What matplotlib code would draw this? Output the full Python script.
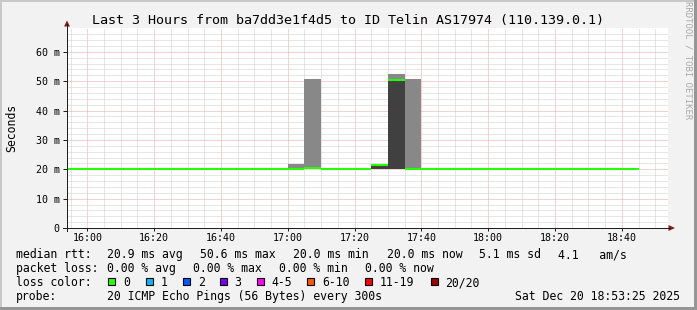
import matplotlib
matplotlib.use('Agg')
import matplotlib.pyplot as plt
import numpy as np
from matplotlib.lines import Line2D
from matplotlib.patches import Polygon, Rectangle

W, H = 697, 310
MONO = 'DejaVu Sans Mono'

# 5 minute bins (minutes after midnight), 15:50 .. 18:40
bin_start = [950 + 5 * i for i in range(35)]
median_ms = [20.0, 20.0, 20.0, 20.0, 20.0, 20.0, 20.0, 20.0, 20.0, 20.0,
             20.0, 20.0, 20.0, 20.0, 20.0, 20.3, 20.0, 20.0, 20.2, 21.5,
             50.5, 20.0, 20.0, 20.0, 20.0, 20.0, 20.0, 20.0, 20.0, 20.0,
             20.0, 20.0, 20.0, 20.0, 20.0]

# smoke (spread of the 20 pings) for the bins that show any
smoke_start = [995, 1020, 1025, 1045, 1050, 1055]
smoke_min = [20.0, 20.0, 20.0, 20.0, 20.0, 20.0]
smoke_max = [20.4, 21.9, 50.8, 21.7, 52.5, 50.6]
core_start = [1045, 1050]
core_lo = [20.0, 20.0]
core_hi = [21.7, 50.5]

x_major = [960, 980, 1000, 1020, 1040, 1060, 1080, 1100, 1120]
x_labels = ['16:00', '16:20', '16:40', '17:00', '17:20', '17:40',
            '18:00', '18:20', '18:40']
y_major = [0, 10, 20, 30, 40, 50, 60]

rtt_items = ['20.9 ms avg', '50.6 ms max', '20.0 ms min', '20.0 ms now',
             '5.1 ms sd', '4.1   am/s']
loss_items = ['0.00 % avg', '0.00 % max', '0.00 % min', '0.00 % now']
loss_names = ['0', '1', '2', '3', '4-5', '6-10', '11-19', '20/20']
loss_colors = ['#26ff00', '#00b8ff', '#0059ff', '#7e00ff', '#ff00ff',
               '#ff5500', '#ff0000', '#a10000']
probe_text = '20 ICMP Echo Pings (56 Bytes) every 300s'
stamp_text = 'Sat Dec 20 18:53:25 2025'
title = 'Last 3 Hours from ba7dd3e1f4d5 to ID Telin AS17974 (110.139.0.1)'


def fx(x):
    return x / W


def fy(y):
    return 1 - y / H


fig = plt.figure(figsize=(W / 100, H / 100), dpi=100)
fig.patch.set_facecolor('#f2f2f2')

left, right, top, bottom = 66.7, 668.0, 27.7, 228.1
ax = fig.add_axes([fx(left), fy(bottom), (right - left) / W, (bottom - top) / H])
ax.set_facecolor('white')
ax.set_xlim(953.83, 1133.83)
ax.set_ylim(0, 68.2)

# grid
ax.set_xticks(x_major)
ax.set_xticklabels(x_labels)
ax.set_xticks(np.arange(955, 1135, 5), minor=True)
ax.set_yticks(y_major)
ax.set_yticklabels(['0'] + ['%d m' % v for v in y_major[1:]])
ax.set_yticks(np.arange(2, 68, 2), minor=True)
ax.grid(which='minor', color='#cfcfcf', lw=0.72, ls=(0, (1, 1)))
ax.grid(which='major', color='#e7a9a9', lw=0.72, ls=(0, (1, 1)))
ax.set_axisbelow(True)
for s in ax.spines.values():
    s.set_visible(False)
ax.tick_params(which='minor', length=0)
ax.tick_params(axis='x', which='major', length=2.2, width=0.72, color='#1f1f1f',
               pad=1.4, labelsize=7.2)
ax.tick_params(axis='y', which='major', length=2.9, width=0.72, color='#1f1f1f',
               pad=2.2, labelsize=7.2)
for lab in ax.get_xticklabels() + ax.get_yticklabels():
    lab.set_family(MONO)

# smoke
ax.bar(smoke_start, np.array(smoke_max) - np.array(smoke_min), bottom=smoke_min,
       width=5, align='edge', color='#888888', lw=0, zorder=2)
ax.bar(core_start, np.array(core_hi) - np.array(core_lo), bottom=core_lo,
       width=5, align='edge', color='#404040', lw=0, zorder=3)

# median rtt
ax.hlines(median_ms, bin_start, np.array(bin_start) + 5, color='#26ff00',
          lw=1.5, zorder=4)

# axes lines and arrows
axis_col = '#1f1f1f'
fig.add_artist(Line2D([fx(67), fx(67)], [fy(231), fy(24)], color=axis_col, lw=0.72))
fig.add_artist(Line2D([fx(63), fx(670)], [fy(228), fy(228)], color=axis_col, lw=0.72))
fig.add_artist(Polygon([[fx(64), fy(26.5)], [fx(70), fy(26.5)], [fx(67), fy(20.5)]],
                       closed=True, color='#7f1f1f', lw=0))
fig.add_artist(Polygon([[fx(668.5), fy(225)], [fx(668.5), fy(231)], [fx(675), fy(228)]],
                       closed=True, color='#7f1f1f', lw=0))

# texts
fig.text(0.5, fy(24), title, ha='center', va='baseline', family=MONO, fontsize=9.6)
fig.text(fx(11.5), fy(128), 'Seconds', rotation=90, ha='center', va='center',
         family=MONO, fontsize=8.3)
fig.text(fx(688), fy(60), 'RRDTOOL / TOBI OETIKER', rotation=270, ha='center',
         va='center', family=MONO, fontsize=6.5, color='#aaaaaa')

fs = 8.3
fig.text(fx(16), fy(258), 'median rtt:', family=MONO, fontsize=fs, va='baseline')
for x, t in zip([107.3, 200, 293.3, 386.7, 479.3, 558.3], rtt_items):
    fig.text(fx(x), fy(258), t, family=MONO, fontsize=fs, va='baseline')

fig.text(fx(16), fy(272), 'packet loss:', family=MONO, fontsize=fs, va='baseline')
for x, t in zip([107.3, 193.3, 279.3, 365.3], loss_items):
    fig.text(fx(x), fy(272), t, family=MONO, fontsize=fs, va='baseline')

fig.text(fx(16), fy(286), 'loss color:', family=MONO, fontsize=fs, va='baseline')
for x, name, c in zip([108.3, 145.7, 183.3, 220, 257, 307.3, 365.3, 430.7],
                      loss_names, loss_colors):
    fig.add_artist(Rectangle((fx(x), fy(284.5)), 7 / W, 7 / H, facecolor=c,
                             edgecolor='black', lw=0.8))
    fig.text(fx(x + 14.7), fy(286), name, family=MONO, fontsize=fs, va='baseline')

fig.text(fx(16), fy(300), 'probe:', family=MONO, fontsize=fs, va='baseline')
fig.text(fx(107.3), fy(300), probe_text, family=MONO, fontsize=fs, va='baseline')
fig.text(fx(680), fy(300), stamp_text, family=MONO, fontsize=fs, va='baseline',
         ha='right')

# frame shading
fig.add_artist(Rectangle((0, fy(2)), 1, 2 / H, color='#c8c8c8', lw=0))
fig.add_artist(Rectangle((0, 0), 2 / W, 1, color='#c8c8c8', lw=0))
fig.add_artist(Rectangle((0, 0), 1, 3.5 / H, color='#969696', lw=0))
fig.add_artist(Rectangle((fx(694), 0), 3 / W, 1, color='#969696', lw=0))

fig.savefig('out.png', dpi=100, facecolor=fig.get_facecolor())
